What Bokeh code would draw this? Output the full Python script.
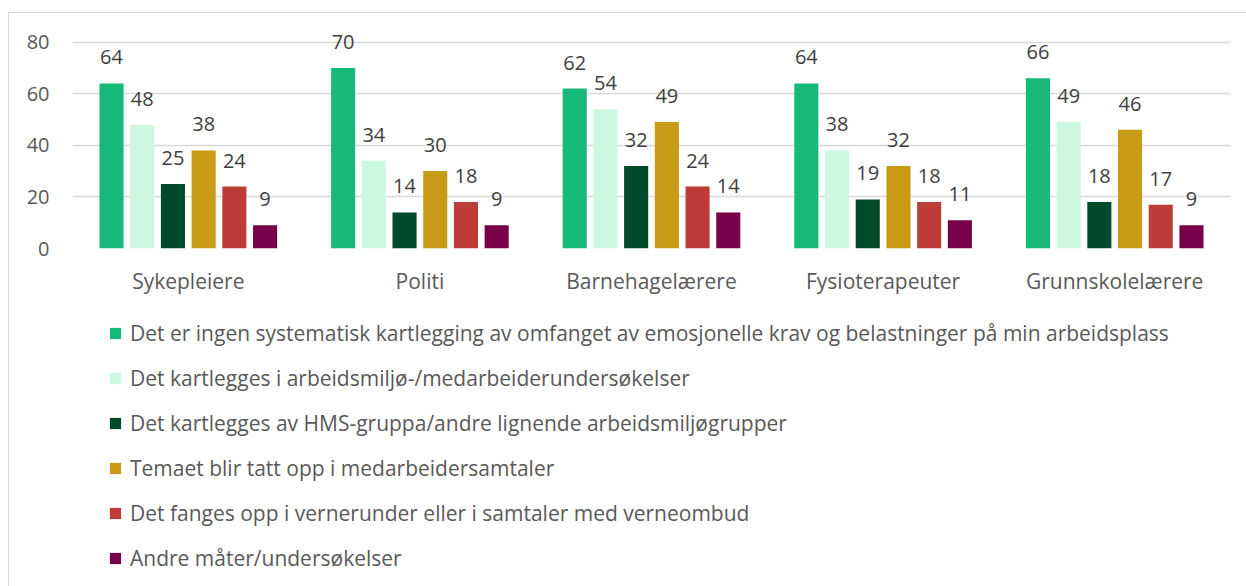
from bokeh.plotting import figure
from bokeh.layouts import column
from bokeh.models import ColumnDataSource, FactorRange, Range1d, FixedTicker, Legend, LegendItem
from bokeh.transform import dodge
from bokeh.embed import file_html
from bokeh.resources import INLINE
from bokeh.core.properties import value

categories = ["Sykepleiere", "Politi", "Barnehagelærere", "Fysioterapeuter", "Grunnskolelærere"]
series_names = [
    "Det er ingen systematisk kartlegging av omfanget av emosjonelle krav og belastninger på min arbeidsplass",
    "Det kartlegges i arbeidsmiljø-/medarbeiderundersøkelser",
    "Det kartlegges av HMS-gruppa/andre lignende arbeidsmiljøgrupper",
    "Temaet blir tatt opp i medarbeidersamtaler",
    "Det fanges opp i vernerunder eller i samtaler med verneombud",
    "Andre måter/undersøkelser",
]
s1 = [64, 70, 62, 64, 66]
s2 = [48, 34, 54, 38, 49]
s3 = [25, 14, 32, 19, 18]
s4 = [38, 30, 49, 32, 46]
s5 = [24, 18, 24, 18, 17]
s6 = [9, 9, 14, 11, 9]
series_values = [s1, s2, s3, s4, s5, s6]
colors = ["#16b97a", "#ccf7e0", "#004b2c", "#c89a16", "#be3c37", "#770049"]
y_ticks = [0, 20, 40, 60, 80]

FONT = "Open Sans"
FS_NUM = "20px"
FS_TXT = "21px"

p = figure(
    x_range=FactorRange(*categories, range_padding=0),
    y_range=Range1d(0, 88),
    width=1237, height=300,
    output_backend="svg", toolbar_location=None,
    min_border_left=63, min_border_right=16, min_border_top=8, min_border_bottom=65,
)
p.outline_line_color = None
p.xgrid.grid_line_color = None
p.ygrid.grid_line_color = "#d9d9d9"
p.ygrid.grid_line_width = 1.5
p.yaxis.ticker = FixedTicker(ticks=y_ticks)
for ax in (p.xaxis[0], p.yaxis[0]):
    ax.axis_line_color = None
    ax.major_tick_line_color = None
    ax.minor_tick_line_color = None
    ax.major_tick_out = 0
    ax.major_tick_in = 0
    ax.minor_tick_out = 0
    ax.major_label_text_font = FONT
    ax.major_label_text_color = "#595959"
p.yaxis.major_label_text_font_size = FS_NUM
p.xaxis.major_label_text_font_size = FS_TXT
p.yaxis.major_label_standoff = 23
p.xaxis.major_label_standoff = 18

src = ColumnDataSource(dict(cat=categories, **{f"s{i}": v for i, v in enumerate(series_values)},
                            **{f"l{i}": [str(x) for x in v] for i, v in enumerate(series_values)}))

pitch = 0.1326
for i, col in enumerate(colors):
    off = (i - 2.5) * pitch
    p.vbar(x=dodge("cat", off, range=p.x_range), top=f"s{i}", width=0.104, source=src,
           fill_color=col, line_color=None)
    p.text(x=dodge("cat", off, range=p.x_range), y=f"s{i}", text=f"l{i}", source=src,
           text_align="center", text_baseline="middle", y_offset=-26,
           text_font=value(FONT), text_font_size=FS_NUM, text_color="#404040")

# legend figure
lg = figure(width=1237, height=273, x_range=Range1d(0, 1), y_range=Range1d(0, 1),
            output_backend="svg", toolbar_location=None,
            min_border_left=0, min_border_right=0, min_border_top=0, min_border_bottom=0)
lg.axis.visible = False
lg.grid.visible = False
lg.outline_line_color = None
items = []
for name, col in zip(series_names, colors):
    r = lg.vbar(x=[-5], top=[-5], bottom=[-6], width=0.1, fill_color=col, line_color=None)
    items.append(LegendItem(label=name, renderers=[r]))
legend = Legend(items=items, location=(36, 14), orientation="vertical",
                glyph_width=14, glyph_height=14, label_height=28, spacing=17,
                label_standoff=8, padding=0, margin=0,
                label_text_font=FONT, label_text_font_size=FS_TXT, label_text_color="#595959",
                border_line_color=None, background_fill_alpha=0)
lg.add_layout(legend, "center")

layout = column(p, lg, spacing=0)
layout.styles = {"border-left": "1px solid #d9d9d9", "border-top": "1px solid #d9d9d9",
                 "margin-top": "12px", "margin-left": "8px"}

open("out.html", "w").write(file_html(layout, INLINE))
